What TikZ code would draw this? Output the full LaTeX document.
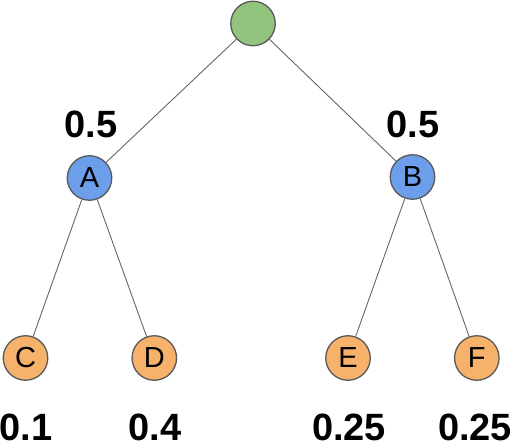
\documentclass[tikz,border=0pt]{standalone}
\usepackage{fontspec}
\setmainfont{Liberation Sans}
\definecolor{rootg}{HTML}{93C47D}
\definecolor{midb}{HTML}{6D9EEB}
\definecolor{leafo}{HTML}{F6B26B}
\definecolor{edgeg}{HTML}{666666}
\definecolor{rimg}{HTML}{595959}
\begin{document}
\begin{tikzpicture}[x=1pt,y=1pt,
  treenode/.style={circle,draw=rimg,line width=1.3pt,minimum size=44.5pt,inner sep=0pt,font=\fontsize{29}{29}\selectfont},
  rootnode/.style={treenode,fill=rootg},
  midnode/.style={treenode,fill=midb},
  leafnode/.style={treenode,fill=leafo},
  prob/.style={anchor=base,inner sep=0pt,font=\fontsize{38}{38}\selectfont\bfseries},
  edge/.style={draw=edgeg,line width=0.9pt}]
\useasboundingbox (0,0) rectangle (514,444);
\node[rootnode] (r) at (253,420.5) {};
\node[midnode] (a) at (89.5,266) {A};
\node[midnode] (b) at (412.5,267) {B};
\node[leafnode] (c) at (25.5,86) {C};
\node[leafnode] (d) at (154.3,86) {D};
\node[leafnode] (e) at (348,86) {E};
\node[leafnode] (f) at (476.8,86) {F};
\draw[edge] (r) -- (a);
\draw[edge] (r) -- (b);
\draw[edge] (a) -- (c);
\draw[edge] (a) -- (d);
\draw[edge] (b) -- (e);
\draw[edge] (b) -- (f);
\node[prob] (pa) at (91,306) {0.5};
\node[prob] (pb) at (413,306) {0.5};
\node[prob] (pc) at (26,3) {0.1};
\node[prob] (pd) at (155,3) {0.4};
\node[prob] (pe) at (349,3) {0.25};
\node[prob] (pf) at (475,3) {0.25};
\end{tikzpicture}
\end{document}
